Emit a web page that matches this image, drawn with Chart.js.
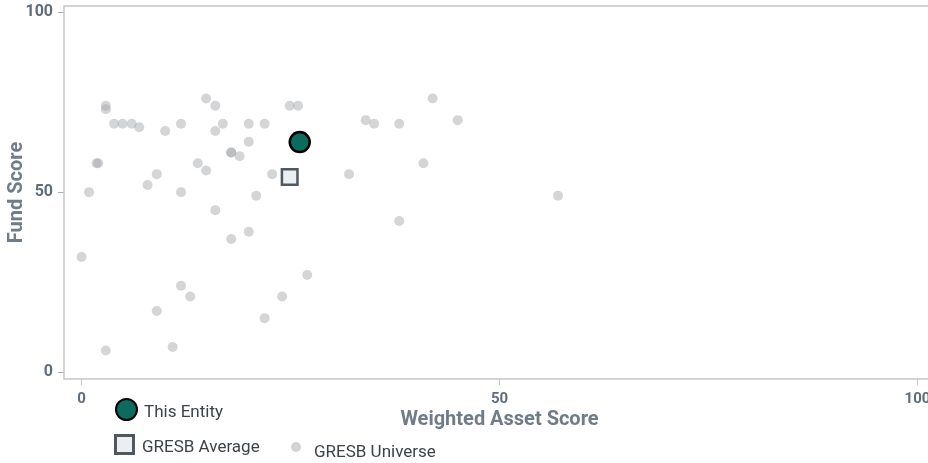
<!DOCTYPE html>
<html>
<head>
<meta charset="utf-8">
<script src="https://cdn.jsdelivr.net/npm/chart.js@4"></script>
<style>
    html, body { margin: 0; padding: 0; background: #fff; overflow: hidden; }
    #wrap { position: relative; width: 935px; height: 463px; }
    .legend-item { position: absolute; font-family: Roboto, sans-serif; font-size: 17px; color: #3d4349; line-height: 20px; white-space: nowrap; }
    .sw { position: absolute; box-sizing: border-box; }
</style>
</head>
<body>
<div id="wrap">
    <canvas id="scoreChart" width="935" height="463"></canvas>
    <div class="sw" style="left:115px;top:398px;width:23px;height:23px;border-radius:50%;background:#0b6b5c;border:2.5px solid #000;"></div>
    <div class="legend-item" style="left:144px;top:401px;">This Entity</div>
    <div class="sw" style="left:114px;top:434px;width:21px;height:21px;background:#eceef2;border:3px solid #4f5860;"></div>
    <div class="legend-item" style="left:142px;top:436px;">GRESB Average</div>
    <div class="sw" style="left:291px;top:442px;width:10px;height:10px;border-radius:50%;background:#d2d3d5;"></div>
    <div class="legend-item" style="left:314px;top:441px;">GRESB Universe</div>
</div>
<script>
document.addEventListener('DOMContentLoaded', function () {
    const canvas = document.getElementById('scoreChart');

    // x = weighted asset score, y = fund score
    const universeX = [0, 0.9, 1.8, 2.9, 2.9, 3.9, 4.9, 6.0, 6.9, 10.0, 11.9, 14.9, 16.0, 16.9, 16.0, 20.0, 21.9,
        24.9, 25.9, 20.0, 17.9, 17.9, 18.9, 2.0, 13.9, 14.9, 9.0, 7.9, 22.8, 11.9, 20.9, 16.0, 17.9, 20.0,
        27.0, 11.9, 13.0, 24.0, 9.0, 21.9, 2.9, 10.9, 42.0, 34.0, 35.0, 38.0, 45.0, 40.9, 32.0, 57.0, 38.0];
    const universeY = [32, 50, 58, 74, 73, 69, 69, 69, 68, 67, 69, 76, 74, 69, 67, 69, 69,
        74, 74, 64, 61, 61, 60, 58, 58, 56, 55, 52, 55, 50, 49, 45, 37, 39,
        27, 24, 21, 21, 17, 15, 6, 7, 76, 70, 69, 69, 70, 58, 55, 49, 42];
    const averageX = [24.9];
    const averageY = [54.2];
    const entityX = [26.1];
    const entityY = [63.9];
    const tickValues = [0, 50, 100];

    const toPoints = (xs, ys) => xs.map((x, i) => ({ x: x, y: ys[i] }));

    const labelColor = '#5f6c79';

    // box around the plot area (top/right edges too)
    const PlotFrame = {
        id: 'plotFrame',
        beforeDatasetsDraw(chart) {
            const { ctx, chartArea } = chart;
            ctx.save();
            ctx.strokeStyle = '#c6c6c6';
            ctx.lineWidth = 1.5;
            ctx.strokeRect(chartArea.left, chartArea.top, chartArea.right - chartArea.left, chartArea.bottom - chartArea.top);
            ctx.restore();
        }
    };

    new Chart(canvas, {
        type: 'scatter',
        data: {
            datasets: [
                {
                    label: 'This Entity',
                    data: toPoints(entityX, entityY),
                    pointRadius: 10,
                    pointHoverRadius: 10,
                    backgroundColor: '#0b6b5c',
                    borderColor: '#000',
                    borderWidth: 2.5
                },
                {
                    label: 'GRESB Average',
                    data: toPoints(averageX, averageY),
                    pointStyle: 'rect',
                    pointRadius: 11,
                    pointHoverRadius: 11,
                    backgroundColor: '#eceef2',
                    borderColor: '#4f5860',
                    borderWidth: 2.5
                },
                {
                    label: 'GRESB Universe',
                    data: toPoints(universeX, universeY),
                    pointRadius: 5,
                    pointHoverRadius: 5,
                    backgroundColor: 'rgba(160,162,166,0.45)',
                    borderWidth: 0
                }
            ]
        },
        options: {
            responsive: false,
            animation: false,
            layout: { autoPadding: false, padding: { top: 6, right: 0, bottom: 0, left: 0 } },
            plugins: {
                legend: { display: false },
                tooltip: { enabled: false }
            },
            scales: {
                x: {
                    type: 'linear',
                    min: -2.1,
                    max: 102.1,
                    afterBuildTicks(scale) { scale.ticks = tickValues.map(v => ({ value: v })); },
                    afterFit(scale) {
                        scale.height = 84;
                        scale.paddingLeft = 0;
                        scale.paddingRight = 0;
                    },
                    grid: { display: true, drawOnChartArea: false, drawTicks: true, tickLength: 6, color: '#bccbd9' },
                    border: { display: false },
                    ticks: {
                        padding: 5,
                        maxRotation: 0,
                        color: labelColor,
                        font: { family: 'Roboto', size: 15, weight: 'bold' }
                    },
                    title: {
                        display: true,
                        text: 'Weighted Asset Score',
                        color: '#6f7c89',
                        font: { family: 'Roboto', size: 20, weight: 'bold' },
                        padding: { top: 0, bottom: 31 }
                    }
                },
                y: {
                    type: 'linear',
                    min: -1.9,
                    max: 101.7,
                    afterBuildTicks(scale) { scale.ticks = tickValues.map(v => ({ value: v })); },
                    afterFit(scale) {
                        scale.width = 64;
                        scale.paddingTop = 0;
                        scale.paddingBottom = 0;
                    },
                    grid: { display: true, drawOnChartArea: false, drawTicks: true, tickLength: 6, color: '#aab0b6' },
                    border: { display: false },
                    ticks: {
                        padding: 5,
                        color: labelColor,
                        font: { family: 'Roboto', size: 16, weight: 'bold' }
                    },
                    title: {
                        display: true,
                        text: 'Fund Score',
                        color: '#6f7c89',
                        font: { family: 'Roboto', size: 20, weight: 'bold' },
                        padding: { top: 5, bottom: 0 }
                    }
                }
            }
        },
        plugins: [PlotFrame]
    });
});
</script>
</body>
</html>
